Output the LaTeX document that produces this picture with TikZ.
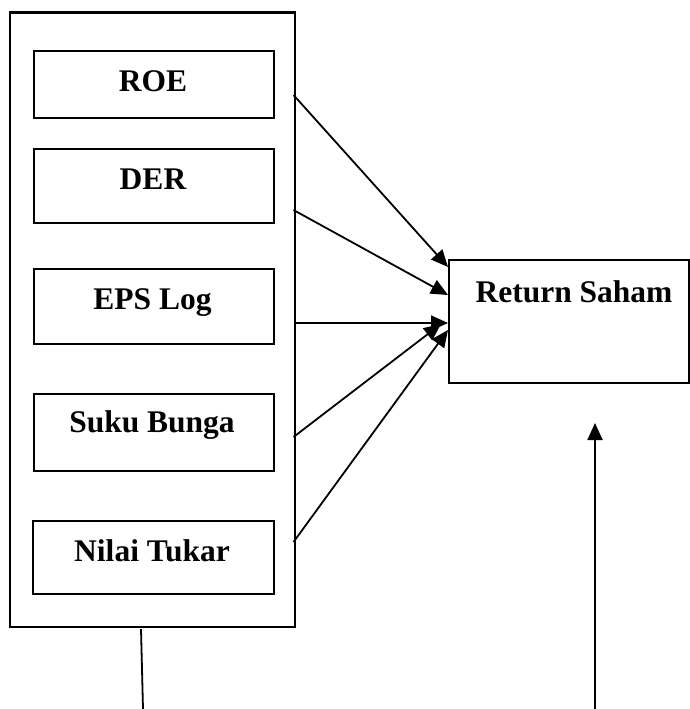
\documentclass[tikz,border=0pt]{standalone}
\usepackage{fontspec}
\setmainfont{Liberation Serif}
\usetikzlibrary{arrows.meta}
\begin{document}
\begin{tikzpicture}[x=1pt,y=-1pt,
  box/.style={draw,line width=2.4pt,rectangle,inner sep=0pt,anchor=north west},
  lbl/.style={anchor=base,inner sep=0pt,font=\fontsize{31.5}{36}\selectfont\bfseries},
  arr/.style={line width=1.8pt,-{Triangle[length=17pt,width=15pt]}},
  ln/.style={line width=1.8pt}]
\useasboundingbox (0,0) rectangle (689,709);
% outer group box
\node[box,minimum width=284.5pt,minimum height=614.5pt] (outer) at (9,11.5) {};
% inner boxes
\node[box,minimum width=240pt,minimum height=67pt] (roe) at (32.5,50) {};
\node[box,minimum width=240pt,minimum height=74pt] (der) at (32.5,148) {};
\node[box,minimum width=240pt,minimum height=75pt] (eps) at (32.5,268) {};
\node[box,minimum width=240pt,minimum height=77pt] (suku) at (32.5,393) {};
\node[box,minimum width=241pt,minimum height=73pt] (nilai) at (31.5,520) {};
\node[box,minimum width=240pt,minimum height=123pt] (ret) at (448,259) {};
% labels
\node[lbl] (troe) at (153,91) {ROE};
\node[lbl] (tder) at (153,189) {DER};
\node[lbl] (teps) at (152.5,309) {EPS Log};
\node[lbl] (tsuku) at (152,432) {Suku Bunga};
\node[lbl] (tnilai) at (152,561) {Nilai Tukar};
\node[lbl] (tret) at (574,302) {Return Saham};
% arrow start / end points
\coordinate (s1) at (293.5,95);
\coordinate (s2) at (293.5,210);
\coordinate (s3) at (293.5,323);
\coordinate (s4) at (293.5,437);
\coordinate (s5) at (293.5,542);
\coordinate (e1) at (448,267);
\coordinate (e2) at (448,295);
\coordinate (e3) at (448,323);
\coordinate (e4) at (441,324);
\coordinate (e5) at (448,330);
\draw[arr] (s1) -- (e1);
\draw[arr] (s2) -- (e2);
\draw[arr] (s3) -- (e3);
\draw[arr] (s4) -- (e4);
\draw[arr] (s5) -- (e5);
% loose lines at bottom
\coordinate (b1) at (141,629);
\coordinate (b2) at (143,709);
\draw[ln] (b1) -- (b2);
\coordinate (r1) at (595,709);
\coordinate (r2) at (595,423);
\draw[arr] (r1) -- (r2);
\end{tikzpicture}
\end{document}
